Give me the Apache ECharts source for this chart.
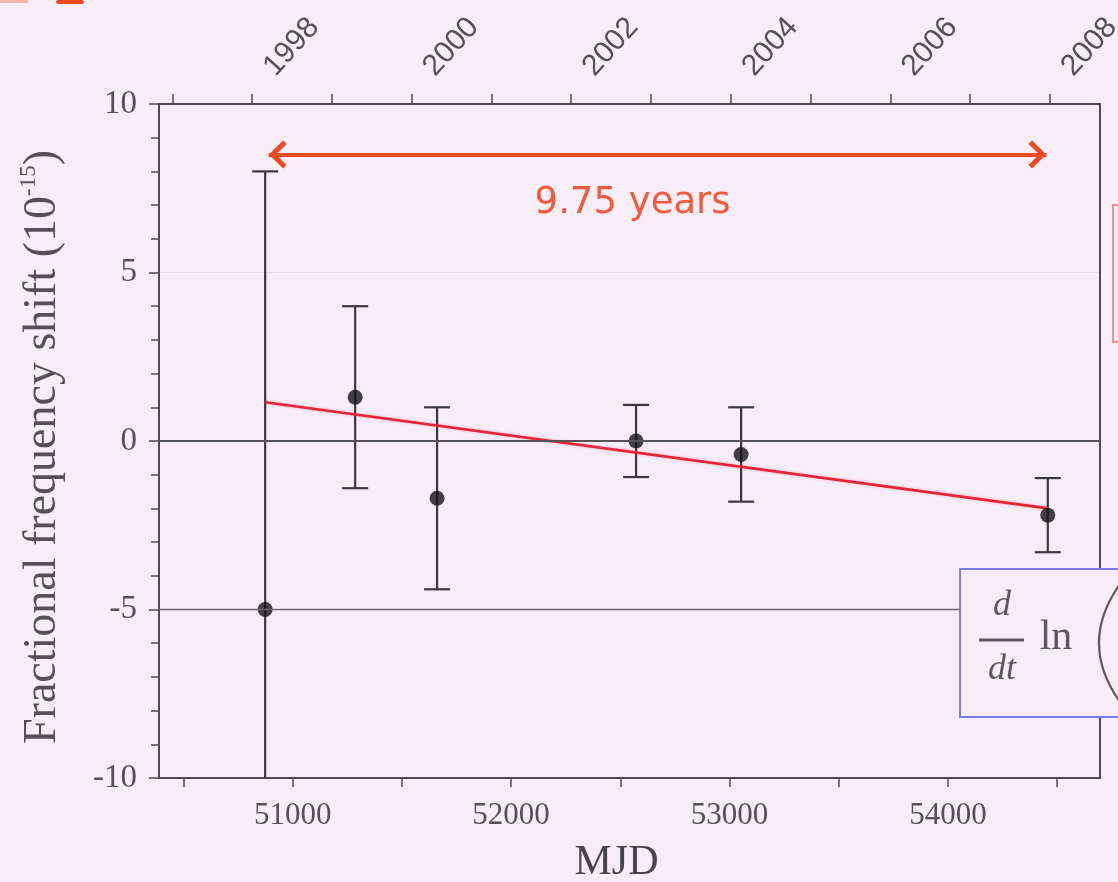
<!DOCTYPE html>
<html>
<head>
<meta charset="utf-8">
<script src="https://cdn.jsdelivr.net/npm/echarts@6/dist/echarts.min.js"></script>
<style>
  html, body { margin: 0; padding: 0; background: #f6edf7; }
  #chart { width: 1118px; height: 882px; }
</style>
</head>
<body>
<div id="chart"></div>
<script>
// Measurement epochs (MJD), fractional frequency shift (units of 1e-15) and 1-sigma uncertainty
const epochMjd = [50874, 51286, 51661, 52572, 53053, 54457];
const shiftValue = [-5.0, 1.3, -1.7, 0.0, -0.4, -2.2];
const shiftSigma = [13.0, 2.7, 2.7, 1.07, 1.4, 1.1];

// Linear drift fit, evaluated at the first and last epochs
const fitMjd = [50874, 54457];
const fitValue = [1.15, -2.0];

// Lower axis: MJD range, tick positions and labelled values
const mjdRange = [50388, 54696];
const mjdTicks = [50500, 51000, 51500, 52000, 52500, 53000, 53500, 54000, 54500];
const mjdLabels = [51000, 52000, 53000, 54000];

// Upper axis: MJD of 1 January for each calendar year (ticks),
// and MJD of 1 July for the years that carry a label
const yearStartMjd = [50449, 50814, 51179, 51544, 51910, 52275, 52640, 53005, 53371, 53736, 54101, 54466];
const labelledYears = [1998, 2000, 2002, 2004, 2006, 2008];
const labelledYearMidMjd = [50995, 51726, 52456, 53187, 53917, 54648];

// Vertical axis range and reference levels
const shiftRange = [-10, 10];
const referenceLevels = [0, -5];

// Span of the measurement campaign
const spanMjd = [50890, 54451];
const spanLevel = 8.5;
const spanText = '9.75 years';

const BG = '#f6edf7';
const AXIS = '#4d4a55';
const TEXT = '#555058';
const SERIF = '"Liberation Serif", "Times New Roman", serif';
const SANS = '"Liberation Sans", Arial, sans-serif';

const chart = echarts.init(document.getElementById('chart'), null, { renderer: 'canvas' });

// open chevron arrow head, tip at the centre of its bounding box
const chevron = 'path://M14,-18L14.05,-18L14,-17.95Z M14,0L28,14L24.5,17.5L14,7L3.5,17.5L0,14Z';

const option = {
  backgroundColor: BG,
  animation: false,
  grid: { left: 159, right: 18, top: 104, bottom: 104, containLabel: false, outerBoundsMode: 'none' },
  xAxis: [
    {
      type: 'value', position: 'bottom', min: mjdRange[0], max: mjdRange[1],
      name: 'MJD', nameLocation: 'middle', nameGap: 64,
      nameTextStyle: { fontFamily: SERIF, fontSize: 42, color: '#48444c', padding: [0, 26, 0, 0] },
      axisLine: { show: true, onZero: false, lineStyle: { color: AXIS, width: 2 } },
      axisTick: { show: true, inside: false, length: 9, customValues: mjdTicks, lineStyle: { color: AXIS, width: 1.5 } },
      axisLabel: {
        show: true, margin: 22, customValues: mjdLabels, fontFamily: SERIF, fontSize: 31, color: TEXT,
        formatter: v => String(v)
      },
      splitLine: { show: false }
    },
    {
      type: 'value', position: 'top', min: mjdRange[0], max: mjdRange[1],
      axisLine: { show: true, onZero: false, lineStyle: { color: AXIS, width: 2 } },
      axisTick: { show: true, inside: false, length: 10, customValues: yearStartMjd, lineStyle: { color: AXIS, width: 1.5 } },
      axisLabel: {
        show: true, rotate: -48, margin: 57, align: 'center', verticalAlign: 'middle',
        fontFamily: SANS, fontSize: 30, color: TEXT,
        customValues: labelledYearMidMjd,
        formatter: v => {
          const i = labelledYearMidMjd.indexOf(v);
          return i >= 0 ? String(labelledYears[i]) : '';
        }
      },
      splitLine: { show: false }
    }
  ],
  yAxis: [
    {
      type: 'value', position: 'left', min: shiftRange[0], max: shiftRange[1], interval: 5,
      name: '{t|Fractional frequency shift (10}{s|-15}{t|)}',
      nameLocation: 'middle', nameGap: 90, nameRotate: 90,
      nameTextStyle: {
        padding: [0, 12, 0, 0],
        rich: {
          t: { fontFamily: SERIF, fontSize: 46, color: TEXT, lineHeight: 52 },
          s: { fontFamily: SERIF, fontSize: 23, color: TEXT, verticalAlign: 'top', lineHeight: 52 }
        }
      },
      axisLine: { show: true, onZero: false, lineStyle: { color: AXIS, width: 2 } },
      axisTick: { show: true, inside: false, length: 10, lineStyle: { color: AXIS, width: 1.5 } },
      minorTick: { show: true, splitNumber: 5, length: 8, lineStyle: { color: AXIS, width: 1.5 } },
      axisLabel: { show: true, margin: 22, fontFamily: SERIF, fontSize: 33, color: TEXT },
      splitLine: { show: true, lineStyle: { color: 'rgba(110,90,120,0.10)', width: 1 } },
      minorSplitLine: { show: false }
    },
    {
      type: 'value', position: 'right', min: shiftRange[0], max: shiftRange[1], interval: 5,
      axisLine: { show: true, onZero: false, lineStyle: { color: AXIS, width: 2 } },
      axisTick: { show: false }, axisLabel: { show: false }, splitLine: { show: false }
    }
  ],
  series: [
    {
      // reference levels and the campaign span arrow
      type: 'line', xAxisIndex: 0, yAxisIndex: 0, data: [], silent: true, z: 1,
      markLine: {
        silent: true, animation: false,
        symbol: ['none', 'none'],
        data: [
          { yAxis: referenceLevels[0], lineStyle: { color: '#55525a', width: 2, type: 'solid' }, label: { show: false } },
          { yAxis: referenceLevels[1], lineStyle: { color: '#6a666e', width: 1.3, type: 'solid' }, label: { show: false } },
          [
            { coord: [spanMjd[0], spanLevel], symbol: chevron, symbolSize: [28, 36] },
            {
              coord: [spanMjd[1], spanLevel], symbol: chevron, symbolSize: [28, 36],
              lineStyle: { color: '#ec4a22', width: 4, type: 'solid' },
              label: {
                show: true, position: 'insideMiddleBottom', distance: 30, offset: [-25, 0],
                formatter: spanText, fontFamily: '"DejaVu Sans", Verdana, sans-serif',
                fontSize: 37, color: '#f15a3c'
              }
            }
          ]
        ]
      }
    },
    {
      // error bars
      type: 'custom', xAxisIndex: 0, yAxisIndex: 0, z: 2,
      data: epochMjd.map((m, i) => [m, shiftValue[i] - shiftSigma[i], shiftValue[i] + shiftSigma[i]]),
      encode: { x: 0, y: [1, 2] },
      renderItem: (params, api) => {
        const x = api.value(0);
        const pLo = api.coord([x, api.value(1)]);
        const pHi = api.coord([x, api.value(2)]);
        const cs = params.coordSys;
        const top = cs.y, bottom = cs.y + cs.height;
        const style = { stroke: '#3a383e', lineWidth: 2.2 };
        const half = 13;
        const children = [{
          type: 'line',
          shape: { x1: pLo[0], y1: Math.min(pLo[1], bottom), x2: pHi[0], y2: Math.max(pHi[1], top) },
          style
        }];
        if (pHi[1] >= top) children.push({ type: 'line', shape: { x1: pHi[0] - half, y1: pHi[1], x2: pHi[0] + half, y2: pHi[1] }, style });
        if (pLo[1] <= bottom) children.push({ type: 'line', shape: { x1: pLo[0] - half, y1: pLo[1], x2: pLo[0] + half, y2: pLo[1] }, style });
        return { type: 'group', children };
      }
    },
    {
      // drift fit
      type: 'line', xAxisIndex: 0, yAxisIndex: 0, z: 3,
      data: fitMjd.map((m, i) => [m, fitValue[i]]),
      showSymbol: false, symbol: 'none',
      lineStyle: { color: '#e5243a', width: 2.6, shadowColor: 'rgba(230,60,80,0.35)', shadowBlur: 3 }
    },
    {
      // measured points
      type: 'scatter', xAxisIndex: 0, yAxisIndex: 0, z: 4,
      data: epochMjd.map((m, i) => [m, shiftValue[i]]),
      symbol: 'circle', symbolSize: 15,
      itemStyle: { color: '#141216' }
    }
  ],
  graphic: [
    // corner accent
    { type: 'rect', z: 100, shape: { x: 0, y: 0, width: 28, height: 3 }, style: { fill: 'rgba(236,80,40,0.35)' } },
    { type: 'rect', z: 100, shape: { x: 56, y: 0, width: 28, height: 4, r: 2 }, style: { fill: '#ea4a20' } },
    // side panel outline
    { type: 'rect', z: 100, shape: { x: 1113, y: 205, width: 60, height: 137 }, style: { fill: 'transparent', stroke: '#f0909a', lineWidth: 2 } },
    // formula panel
    {
      type: 'group', z: 100,
      children: [
        { type: 'rect', z: 100, shape: { x: 960, y: 569, width: 200, height: 148 }, style: { fill: BG, stroke: '#7e7aea', lineWidth: 2 } },
        { type: 'text', z: 101, style: { x: 1002, y: 606, text: 'd', fontFamily: SERIF, fontStyle: 'italic', fontSize: 36, fill: '#5c5862', align: 'center', verticalAlign: 'middle' } },
        { type: 'line', z: 101, shape: { x1: 979, y1: 640, x2: 1024, y2: 640 }, style: { stroke: '#5c5862', lineWidth: 3 } },
        { type: 'text', z: 101, style: { x: 1002, y: 670, text: 'dt', fontFamily: SERIF, fontStyle: 'italic', fontSize: 36, fill: '#5c5862', align: 'center', verticalAlign: 'middle' } },
        { type: 'text', z: 101, style: { x: 1056, y: 638, text: 'ln', fontFamily: SERIF, fontSize: 42, fill: '#5c5862', align: 'center', verticalAlign: 'middle' } },
        { type: 'bezierCurve', z: 101, shape: { x1: 1120, y1: 584, x2: 1120, y2: 702, cpx1: 1078, cpy1: 643 }, style: { stroke: '#5c5862', lineWidth: 2.2, fill: 'none' } }
      ]
    }
  ]
};

chart.setOption(option);
</script>
</body>
</html>
